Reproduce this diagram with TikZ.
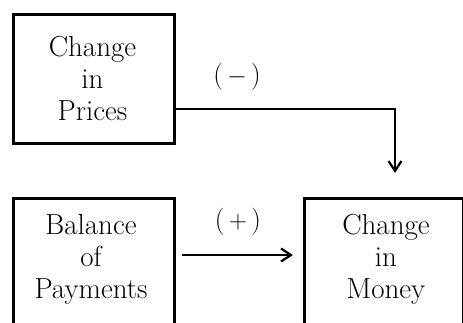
\documentclass[tikz,border=0pt]{standalone}
\usetikzlibrary{arrows.meta}
\begin{document}
\begin{tikzpicture}[x=1pt,y=-1pt,
  boxline/.style={draw, line width=2.6pt, inner sep=0pt},
  boxtext/.style={align=center, font=\fontsize{29}{32}\selectfont, inner sep=0pt},
  lbl/.style={font=\fontsize{27}{32}\selectfont, inner sep=0pt},
  conn/.style={line width=2pt, -{Straight Barb[length=10pt,width=13pt,line width=2.2pt]}}]
\useasboundingbox (0,0) rectangle (463,322);
\clip (0,0) rectangle (463,322);
% boxes
\node[boxline, minimum width=161pt, minimum height=129pt, anchor=north west] (prices) at (12,13) {};
\node[boxtext] (pricestext) at (92.5,78) {Change\\in\\Prices};
\node[boxline, minimum width=161pt, minimum height=150pt, anchor=north west] (bop) at (12,197) {};
\node[boxtext] (boptext) at (91,259) {Balance\\of\\Payments};
\node[boxline, minimum width=159pt, minimum height=150pt, anchor=north west] (money) at (303,197) {};
\node[boxtext] (moneytext) at (386,259) {Change\\in\\Money};
% connector endpoints
\coordinate (topend) at (395,173);
\coordinate (bstart) at (182,255);
\coordinate (bend) at (293,255);
% connectors
\draw[conn] (prices.east |- 0,109) -| (topend);
\draw[conn] (bstart) -- (bend);
% labels
\node[lbl] (minus) at (237,77) {(\,$-$\,)};
\node[lbl] (plus) at (238,222) {(\,$+$\,)};
\end{tikzpicture}
\end{document}
